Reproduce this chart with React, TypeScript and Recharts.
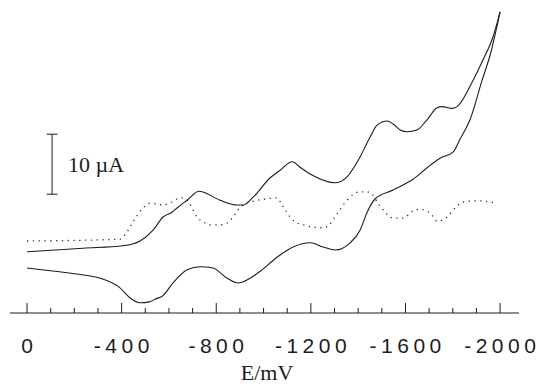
// Cyclic voltammogram (solid) with its derivative trace (dotted).
// E axis runs from 0 to -2000 mV, left to right; no current axis, only a 10 µA scale bar.

import React from 'react'
import { LineChart, Line, XAxis, YAxis, ReferenceLine } from 'recharts'

// forward scan, 0 → -2000 mV (upper solid branch)
const FWD_E = [0, -237, -406, -478, -533, -575, -613, -634, -677, -727, -816, -888, -913, -956, -1027, -1070, -1121, -1154, -1205, -1302, -1353, -1408, -1450, -1480, -1522, -1548, -1578, -1607, -1649, -1691, -1734, -1755, -1797, -1818, -1886, -1928, -1970, -2000]
const FWD_I = [10.2, 10.8, 11.2, 12, 13.8, 16, 16.8, 17.5, 18.8, 20.3, 18.8, 18, 18, 19.3, 22.5, 23.8, 25.2, 24.3, 23, 21.7, 22.7, 26, 29.3, 31.3, 32, 31.5, 30.5, 30.2, 30.5, 32.2, 34.2, 34.4, 34.1, 34.4, 38.8, 42.2, 46, 50.2]

// return scan, -2000 → 0 mV (lower solid branch)
const REV_E = [-2000, -1958, -1924, -1873, -1831, -1801, -1746, -1691, -1632, -1607, -1548, -1471, -1438, -1408, -1366, -1302, -1252, -1197, -1125, -1057, -977, -892, -846, -786, -732, -677, -617, -575, -541, -520, -478, -436, -393, -309, -169, 0]
const REV_I = [50.2, 43, 38.8, 32.2, 29, 26.8, 25.8, 24.2, 22.3, 21.7, 20.5, 19, 16.8, 13.8, 11.7, 10.5, 11, 11.7, 11, 9.3, 6.7, 5, 5.8, 7.5, 7.7, 7.2, 5, 2.9, 2.3, 1.9, 1.7, 2.5, 4.2, 5.8, 6.7, 7.5]

// dotted trace
const DOT_E = [0, -393, -414, -448, -490, -520, -575, -613, -647, -677, -719, -753, -774, -816, -846, -871, -892, -922, -964, -1006, -1057, -1078, -1112, -1142, -1167, -1209, -1252, -1273, -1302, -1353, -1408, -1438, -1459, -1484, -1514, -1548, -1590, -1632, -1662, -1691, -1712, -1734, -1776, -1810, -1844, -1903, -1958, -1987]
const DOT_I = [12, 12.3, 13, 15.2, 17.5, 18.3, 18, 18.5, 19.2, 18.8, 16, 15, 14.7, 14.7, 15, 16, 17.2, 18.2, 18.7, 19, 19.2, 18, 16, 15, 14.7, 14.3, 14.2, 14.5, 16, 18.8, 20.2, 20.2, 19.8, 18.3, 16.8, 15.8, 15.8, 17, 17.3, 17, 16.3, 15.3, 16, 17.5, 18.5, 18.7, 18.5, 18.3]

const E_TICKS = [0, -100, -200, -300, -400, -500, -600, -700, -800, -900, -1000, -1100, -1200, -1300, -1400, -1500, -1600, -1700, -1800, -1900, -2000]
const LABEL_EVERY = 400

// scale bar: 10 µA
const BAR_E = -106
const BAR_FROM = 19.8
const BAR_TO = 29.8
const BAR_LABEL = '10 µA'

const INK = '#1c1c1c'

function zip(e: number[], i: number[]) {
  return e.map((v, k) => ({ e: v, i: i[k] }))
}

function ETick(props: any) {
  const { x, y, payload } = props
  const major = payload.value % LABEL_EVERY === 0
  return (
    <g>
      <line x1={x} x2={x} y1={y} y2={y - (major ? 10 : 5)} stroke={INK} strokeWidth={1} />
      {major && (
        <text
          x={x + 2.2}
          y={y + 40}
          textAnchor="middle"
          fill={INK}
          fontFamily="'Liberation Sans', Arial, sans-serif"
          fontSize={21}
          letterSpacing={4.5}
        >
          {payload.value}
        </text>
      )}
    </g>
  )
}

export default function App() {
  const fwd = zip(FWD_E, FWD_I)
  const rev = zip(REV_E, REV_I)
  const dot = zip(DOT_E, DOT_I)
  const serif = "'Liberation Serif', 'Times New Roman', serif"

  return (
    <div style={{ position: 'absolute', left: 0, top: 0, width: 541, height: 387, background: '#fff' }}>
      <LineChart width={541} height={387} margin={{ top: 1, right: 22, left: 10, bottom: 14 }}>
        <XAxis
          type="number"
          dataKey="e"
          domain={[-2080, 72]}
          reversed
          ticks={E_TICKS}
          interval={0}
          allowDataOverflow
          height={60}
          tickSize={0}
          tickMargin={0}
          tickLine={false}
          axisLine={{ stroke: INK, strokeWidth: 1 }}
          tick={<ETick />}
        />
        <YAxis type="number" dataKey="i" domain={[0, 52]} hide allowDataOverflow />
        <ReferenceLine segment={[{ x: BAR_E, y: BAR_FROM }, { x: BAR_E, y: BAR_TO }]} stroke={INK} strokeWidth={1} />
        <ReferenceLine segment={[{ x: BAR_E + 23, y: BAR_FROM }, { x: BAR_E - 23, y: BAR_FROM }]} stroke={INK} strokeWidth={1} />
        <ReferenceLine segment={[{ x: BAR_E + 23, y: BAR_TO }, { x: BAR_E - 23, y: BAR_TO }]} stroke={INK} strokeWidth={1} />
        <Line data={dot} dataKey="i" type="monotone" stroke="#333" strokeWidth={1.3} strokeDasharray="1.3 4.5" dot={false} isAnimationActive={false} />
        <Line data={fwd} dataKey="i" type="monotone" stroke={INK} strokeWidth={1.1} dot={false} isAnimationActive={false} />
        <Line data={rev} dataKey="i" type="monotone" stroke={INK} strokeWidth={1.1} dot={false} isAnimationActive={false} />
      </LineChart>
      <svg width={541} height={387} style={{ position: 'absolute', left: 0, top: 0, pointerEvents: 'none' }}>
        <text x={68} y={172} fontFamily={serif} fontSize={22} fill={INK}>
          {BAR_LABEL}
        </text>
        <text x={267} y={380} textAnchor="middle" fontFamily={serif} fontSize={22} fill={INK}>
          E/mV
        </text>
      </svg>
    </div>
  )
}
